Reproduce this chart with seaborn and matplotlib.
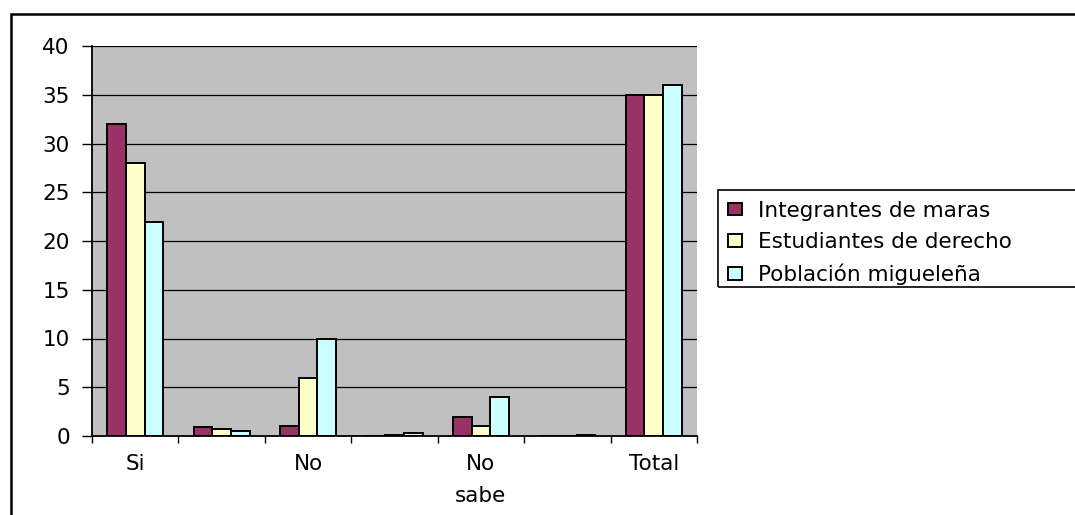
import matplotlib
matplotlib.use("Agg")
import matplotlib.pyplot as plt
from matplotlib.patches import Rectangle
from matplotlib.ticker import FixedLocator
import seaborn as sns
import pandas as pd

# Answer categories (unlabelled slots kept as blank labels)
categories = ["Si", " ", "No", "  ", "No\nsabe", "   ", "Total"]
series = ["Integrantes de maras", "Estudiantes de derecho", "Población migueleña"]
integrantes = [32, 0.9, 1, 0, 2, 0, 35]
estudiantes = [28, 0.7, 6, 0.1, 1, 0, 35]
poblacion = [22, 0.55, 10, 0.3, 4, 0.1, 36]
colors = ["#993366", "#FFFFCC", "#CCFFFF"]
y_ticks = [0, 5, 10, 15, 20, 25, 30, 35, 40]

rows = []
for name, vals in zip(series, [integrantes, estudiantes, poblacion]):
    for cat, v in zip(categories, vals):
        rows.append({"categoria": cat, "grupo": name, "valor": v})
df = pd.DataFrame(rows)

sns.set_theme(style="white")
plt.rcParams["font.family"] = ["DejaVu Sans"]
plt.rcParams["text.color"] = "black"
plt.rcParams["xtick.color"] = "black"
plt.rcParams["ytick.color"] = "black"
plt.rcParams["xtick.labelcolor"] = "black"
plt.rcParams["ytick.labelcolor"] = "black"
FS = 15.5

fig = plt.figure(figsize=(10.75, 5.15), dpi=100)
ax = fig.add_axes([92 / 1075, 1 - 436 / 515, (697 - 92) / 1075, (436 - 46) / 515])
ax.set_facecolor("#C0C0C0")

sns.barplot(data=df, x="categoria", y="valor", hue="grupo", order=categories,
            hue_order=series, palette=colors, saturation=1,
            edgecolor="black", linewidth=1.4,
            width=0.65, gap=0, ax=ax, zorder=3)

ax.set_xlim(-0.5, len(categories) - 0.5)
ax.set_ylim(0, 40)
ax.yaxis.set_major_locator(FixedLocator(y_ticks))
ax.yaxis.grid(True, color="black", linewidth=0.9, zorder=1)
ax.set_axisbelow(True)
ax.set_xlabel("")
ax.set_ylabel("")

for side in ["top", "right"]:
    ax.spines[side].set_visible(False)
for side in ["left", "bottom"]:
    ax.spines[side].set_color("black")
    ax.spines[side].set_linewidth(1.3)
    ax.spines[side].set_zorder(4)

ax.tick_params(axis="y", which="major", direction="out", length=7, width=1,
               color="black", labelcolor="black", pad=9, labelsize=FS, left=True)
ax.tick_params(axis="x", which="major", length=0, pad=13, labelsize=FS,
               labelcolor="black")
ax.set_xticks([i - 0.5 for i in range(len(categories) + 1)], minor=True)
ax.tick_params(axis="x", which="minor", direction="out", length=5, width=1,
               color="black", bottom=True)
for lab in ax.get_xticklabels():
    lab.set_linespacing(1.72)
    lab.set_verticalalignment("top")

handles, labels = ax.get_legend_handles_labels()
if ax.legend_:
    ax.legend_.remove()
leg = fig.legend(handles, labels, loc="upper left",
                 bbox_to_anchor=(719 / 1075, 1 - 192 / 515),
                 fontsize=FS, frameon=False,
                 handlelength=0.65, handleheight=0.55,
                 handletextpad=0.75, labelspacing=0.53, borderpad=0.4,
                 borderaxespad=0)
for t in leg.get_texts():
    t.set_color("black")

# Legend box, running off the right edge
fig.patches.append(Rectangle((718 / 1075, 1 - 287 / 515), 0.4, 97 / 515,
                             transform=fig.transFigure, fill=False,
                             edgecolor="black", linewidth=1.2))

# Outer chart frame (extends past the right and bottom edges)
fig.patches.append(Rectangle((11 / 1075, -0.2), 1.2, 1.2 - 14 / 515,
                             transform=fig.transFigure, fill=False,
                             edgecolor="black", linewidth=1.8))

fig.savefig("out.png", dpi=100)
